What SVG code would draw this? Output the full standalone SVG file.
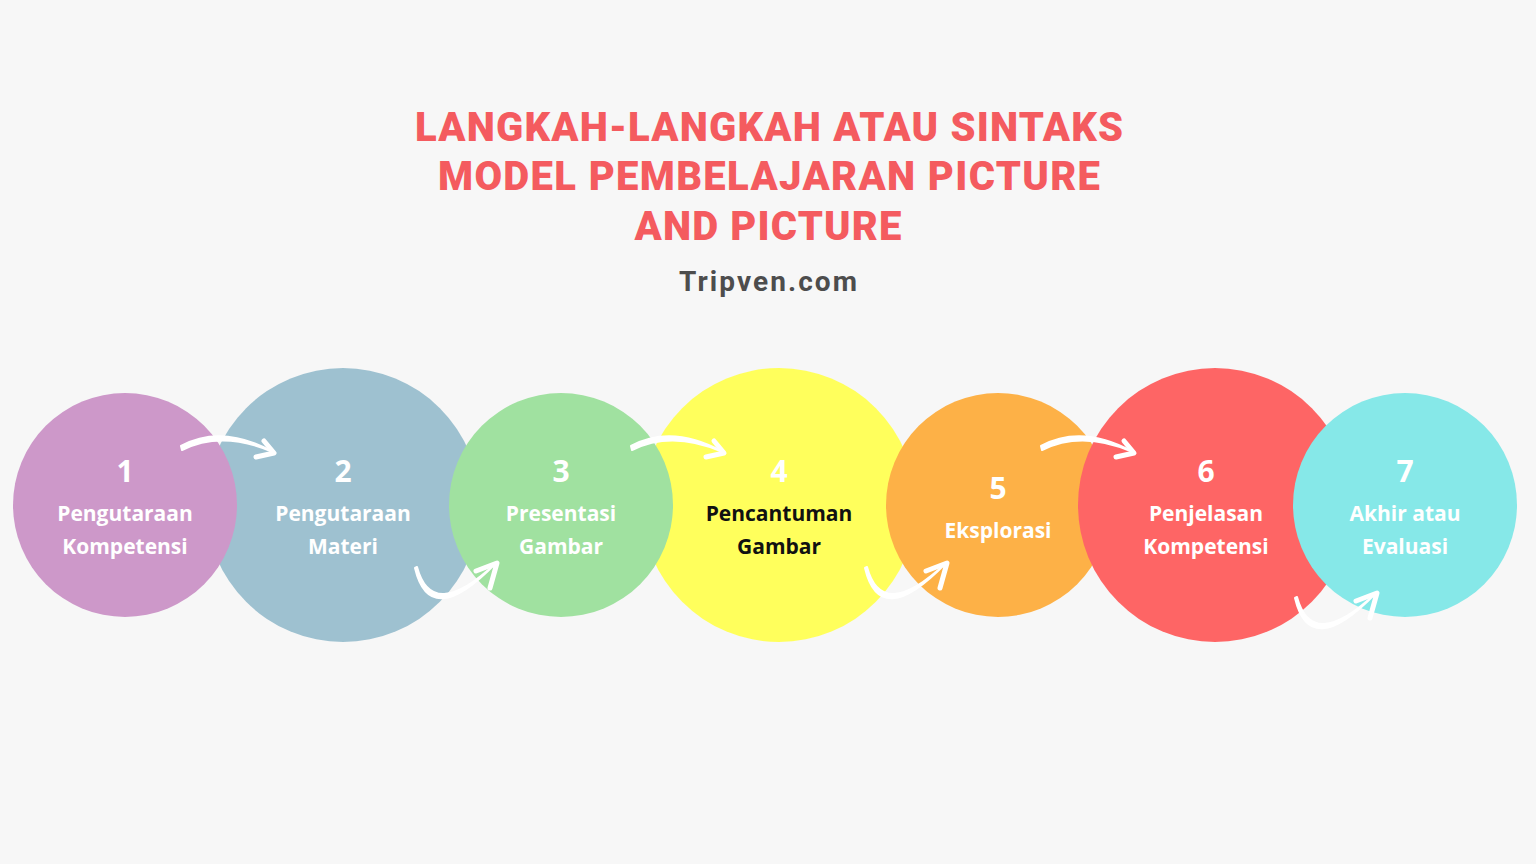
<svg xmlns="http://www.w3.org/2000/svg" xmlns:xlink="http://www.w3.org/1999/xlink" width="1536" height="864" viewBox="0 0 1536 864">
<style>
.title{font-family:Roboto,"Liberation Sans",sans-serif;font-weight:900;font-size:40px;fill:#F45B5F;text-anchor:middle}
.sub{font-family:Roboto,"Liberation Sans",sans-serif;font-weight:700;font-size:28px;fill:#4D4D4D;text-anchor:middle}
.num{font-family:"Open Sans","Noto Sans",sans-serif;font-weight:700;font-size:30px;fill:#FFFFFF;text-anchor:middle}
.lbl{font-family:"Open Sans","Noto Sans",sans-serif;font-weight:700;font-size:21px;fill:#FFFFFF;text-anchor:middle}
.dark{fill:#111111}
.body{fill:#FFFFFF;stroke:#FFFFFF;stroke-width:2;stroke-linejoin:round}
.head{fill:none;stroke:#FFFFFF;stroke-width:5;stroke-linecap:round;stroke-linejoin:round}
</style>
<defs>
<g id="arrowTop">
<path class="body" d="M181,446 Q222,424 273,452 Q222,430 182,450 Z"/>
<polyline class="head" points="264,441 274,453 256,457"/>
</g>
<g id="arrowBottom">
<path class="body" d="M415,568 Q430,631 496,563 Q432,623 417,567 Z"/>
<polyline class="head" points="476,571 497,563 490,588"/>
</g>
</defs>
<rect width="1536" height="864" fill="#F7F7F7"/>
<g id="title">
<text class="title" x="769" y="141" textLength="708" lengthAdjust="spacing">LANGKAH-LANGKAH ATAU SINTAKS</text>
<text class="title" x="769" y="190" textLength="662" lengthAdjust="spacing">MODEL PEMBELAJARAN PICTURE</text>
<text class="title" x="768" y="240" textLength="267" lengthAdjust="spacing">AND PICTURE</text>
<text class="sub" x="768" y="291" textLength="178" lengthAdjust="spacing">Tripven.com</text>
</g>
<g id="node2"><circle cx="343" cy="505" r="137" fill="#9EC1D0"/></g>
<g id="node4"><circle cx="779" cy="505" r="137" fill="#FFFF5C"/></g>
<g id="node1"><circle cx="125" cy="505" r="112" fill="#CD98C9"/></g>
<g id="node3"><circle cx="561" cy="505" r="112" fill="#A0E1A0"/></g>
<g id="node5"><circle cx="998" cy="505" r="112" fill="#FDB147"/></g>
<g id="node6"><circle cx="1215" cy="505" r="137" fill="#FE6565"/></g>
<g id="node7"><circle cx="1405" cy="505" r="112" fill="#86E8E8"/></g>
<g id="labels">
<text class="num" x="125" y="482">1</text>
<text class="lbl" x="125" y="521">Pengutaraan</text>
<text class="lbl" x="125" y="554">Kompetensi</text>
<text class="num" x="343" y="482">2</text>
<text class="lbl" x="343" y="521">Pengutaraan</text>
<text class="lbl" x="343" y="554">Materi</text>
<text class="num" x="561" y="482">3</text>
<text class="lbl" x="561" y="521">Presentasi</text>
<text class="lbl" x="561" y="554">Gambar</text>
<text class="num" x="779" y="482">4</text>
<text class="lbl dark" x="779" y="521">Pencantuman</text>
<text class="lbl dark" x="779" y="554">Gambar</text>
<text class="num" x="998" y="499">5</text>
<text class="lbl" x="998" y="538">Eksplorasi</text>
<text class="num" x="1206" y="482">6</text>
<text class="lbl" x="1206" y="521">Penjelasan</text>
<text class="lbl" x="1206" y="554">Kompetensi</text>
<text class="num" x="1405" y="482">7</text>
<text class="lbl" x="1405" y="521">Akhir atau</text>
<text class="lbl" x="1405" y="554">Evaluasi</text>
</g>
<g id="connectors">
<use xlink:href="#arrowTop"/>
<use xlink:href="#arrowBottom"/>
<use xlink:href="#arrowTop" transform="translate(450,0)"/>
<use xlink:href="#arrowBottom" transform="translate(450,0)"/>
<use xlink:href="#arrowTop" transform="translate(860,0)"/>
<use xlink:href="#arrowBottom" transform="translate(880,30)"/>
</g>
</svg>
